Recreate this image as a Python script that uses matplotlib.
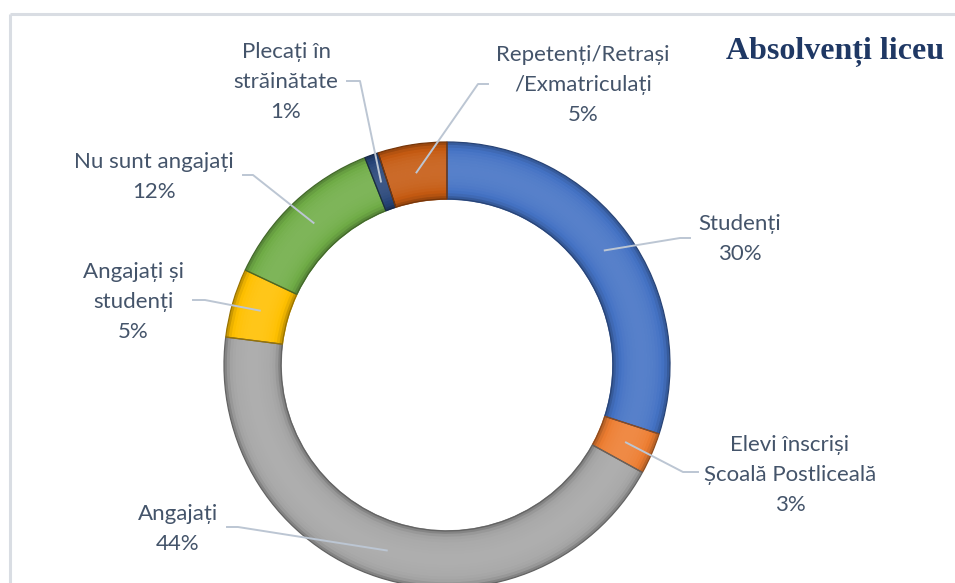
import matplotlib
matplotlib.use("Agg")
import matplotlib.pyplot as plt
import numpy as np
from matplotlib.colors import to_rgb

# ---- data ----
categories = ["Studenți", "Elevi înscriși\nȘcoală Postliceală", "Angajați",
              "Angajați și\nstudenți", "Nu sunt angajați",
              "Plecați în\nstrăinătate", "Repetenți/Retrași\n/Exmatriculați"]
values = [30, 3, 44, 5, 12, 1, 5]
colors = ["#4472C4", "#ED7D31", "#A5A5A5", "#FFC000", "#70AD47", "#264478", "#C55A11"]
title = "Absolvenți liceu"

# ---- layout (pixel coords, y from top) ----
FW, FH = 955, 583
fig = plt.figure(figsize=(FW / 100, FH / 100), dpi=100)
ax = fig.add_axes([0, 0, 1, 1])

cx, cy = 447, FH - 365
R, W = 223, 57


def shade(c, f):
    c = np.array(to_rgb(c))
    if f >= 1:
        return tuple(c + (1 - c) * (f - 1))
    return tuple(c * f)


def shade_fn(t):
    return (1.0 + 0.10 * np.sin(np.pi * t)
            - 0.30 * np.exp(-t / 0.07) - 0.30 * np.exp(-(1 - t) / 0.07))


nb = 20
for i in range(nb):
    t0 = i / nb
    tm = (i + 0.5) / nb
    r = R - W * t0
    cols = [shade(c, shade_fn(tm)) for c in colors]
    ax.pie(values, radius=r, center=(cx, cy), colors=cols, startangle=90,
           counterclock=False,
           wedgeprops=dict(width=W / nb + 0.8, linewidth=0, antialiased=True))

# darker edges between segments
wedges, _ = ax.pie(values, radius=R, center=(cx, cy), startangle=90,
                   counterclock=False, wedgeprops=dict(width=W, linewidth=0.9))
for wdg, c in zip(wedges, colors):
    wdg.set_facecolor("none")
    wdg.set_edgecolor(shade(c, 0.6))

ax.set_xlim(0, FW)
ax.set_ylim(0, FH)
ax.set_aspect("equal")
ax.axis("off")

# border of chart area
border_c = "#D9DDE3"
ax.plot([10, FW], [FH - 14, FH - 14], color=border_c, lw=2.2, solid_capstyle="butt")
ax.plot([10, 10], [FH - 14, 0], color=border_c, lw=2.2, solid_capstyle="butt")

# title
ax.text(835, FH - 52, title, ha="center", va="center", fontsize=23,
        fontweight="bold", family="Liberation Serif", color="#1F3864")

# labels: text center (x, y from top), elbow point, text-side start
label_pos = [(740, 239), (790, 475), (178, 529), (133, 302), (154, 177), (286, 82), (583, 85)]
elbow = [(680, 238), (683, 472), (238, 527), (205, 300), (253, 175), (360, 81), (478, 84)]
start = [(690, 238), (698, 472), (227, 527), (193, 300), (243, 175), (347, 81), (488, 84)]

text_c = "#44546A"
line_c = "#BCC6D3"
cum = np.cumsum([0] + values)
total = sum(values)
r_mid = R - 28
for i, (cat, v) in enumerate(zip(categories, values)):
    mid = 90 - 360 * (cum[i] + v / 2) / total
    ex = cx + r_mid * np.cos(np.radians(mid))
    ey = cy + r_mid * np.sin(np.radians(mid))
    sx, sy = start[i]
    bx, by = elbow[i]
    ax.plot([sx, bx, ex], [FH - sy, FH - by, ey], color=line_c, lw=1.4,
            solid_joinstyle="round", zorder=5)
    lx, ly = label_pos[i]
    ax.text(lx, FH - ly, f"{cat}\n{v}%", ha="center", va="center",
            fontsize=16, family="Lato", color=text_c, linespacing=1.62, zorder=6)

fig.savefig("out.png", dpi=100)
